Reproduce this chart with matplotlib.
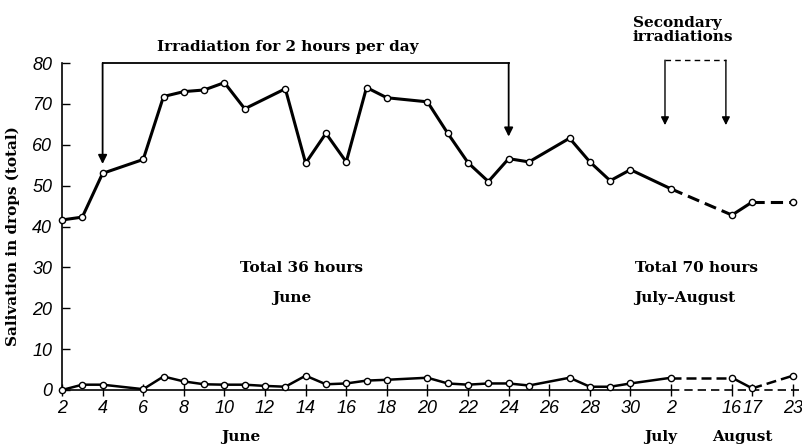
import matplotlib
matplotlib.use("Agg")
import matplotlib.pyplot as plt

# dates (month, day) and readings
upper_month = [6] * 25 + [7, 8, 8, 8]
upper_day = [2, 3, 4, 6, 7, 8, 9, 10, 11, 13, 14, 15, 16, 17, 18, 20, 21, 22, 23,
             24, 25, 27, 28, 29, 30, 2, 16, 17, 23]
upper_val = [41.6, 42.3, 53.0, 56.4, 71.8, 73.0, 73.4, 75.2, 68.8, 73.7, 55.5,
             62.8, 55.8, 74.0, 71.5, 70.5, 62.8, 55.6, 51.0, 56.6, 55.8, 61.6,
             55.8, 51.2, 53.9, 49.2, 42.8, 46.0, 46.0]

lower_month = [6] * 26 + [7, 8, 8, 8]
lower_day = [2, 3, 4, 6, 7, 8, 9, 10, 11, 12, 13, 14, 15, 16, 17, 18, 20, 21, 22,
             23, 24, 25, 27, 28, 29, 30, 2, 16, 17, 23]
lower_val = [0.0, 1.3, 1.3, 0.2, 3.3, 2.1, 1.4, 1.3, 1.3, 1.0, 0.8, 3.5, 1.4,
             1.6, 2.3, 2.5, 3.0, 1.6, 1.3, 1.6, 1.6, 1.1, 3.0, 0.8, 0.8, 1.6,
             3.0, 3.0, 0.4, 3.5]

tick_month = [6] * 15 + [7, 8, 8, 8]
tick_day = list(range(2, 31, 2)) + [2, 16, 17, 23]

# broken time axis: June/July continuous, August compressed
aug_slots = {16: 33, 17: 34, 23: 36}


def xpos(month, day):
    if month == 6:
        return day - 2
    if month == 7:
        return day + 28
    return aug_slots[day]


serif = dict(family="DejaVu Serif", fontweight="bold", fontsize=11)
tickfont = dict(family=["Liberation Sans", "DejaVu Sans"], style="italic", size=13)

fig = plt.figure(figsize=(8.03, 4.45), dpi=100)
ax = fig.add_axes([62 / 803, 55 / 445, 738 / 803, 327 / 445])
ax.set_xlim(0, 36.35)
ax.set_ylim(0, 80)

for sp in ["top", "right", "bottom"]:
    ax.spines[sp].set_visible(False)
ax.spines["left"].set_linewidth(1.2)


def draw_series(months, days, vals, lw):
    xs = [xpos(m, d) for m, d in zip(months, days)]
    i_jul = months.index(7)
    i_16 = days.index(16, i_jul)
    i_17 = i_16 + 1
    ax.plot(xs[:i_jul + 1], vals[:i_jul + 1], color="k", lw=lw, clip_on=False)
    ax.plot(xs[i_jul:i_16 + 1], vals[i_jul:i_16 + 1], color="k", lw=lw,
            dashes=(4, 2), clip_on=False)
    ax.plot(xs[i_16:i_17 + 1], vals[i_16:i_17 + 1], color="k", lw=lw, clip_on=False)
    ax.plot(xs[i_17:], vals[i_17:], color="k", lw=lw, dashes=(4, 2), clip_on=False)
    ax.plot(xs, vals, ls="none", marker="o", ms=4.5, mfc="white", mec="k",
            mew=1.0, clip_on=False, zorder=5)


draw_series(upper_month, upper_day, upper_val, 2.2)
draw_series(lower_month, lower_day, lower_val, 1.8)

# x axis line, dashed after the break
x_jul2 = xpos(7, 2)
ax.plot([0, x_jul2], [0, 0], color="k", lw=1.2, clip_on=False)
ax.plot([x_jul2, 36.3], [0, 0], color="k", lw=1.2, dashes=(5, 3), clip_on=False)

ax.set_xticks([xpos(m, d) for m, d in zip(tick_month, tick_day)])
ax.set_xticklabels([str(d) for d in tick_day], **tickfont)
ax.tick_params(axis="x", direction="inout", length=9, width=1, pad=3)
ax.set_yticks(range(0, 81, 10))
ax.set_yticklabels([str(v) for v in range(0, 81, 10)], **tickfont)
ax.tick_params(axis="y", direction="in", length=6, width=1, pad=7)

ax.set_ylabel("Salivation in drops (total)", **serif)
ax.yaxis.set_label_coords(-0.057, 0.47)

# primary irradiation bracket
xa, xb = xpos(6, 4), xpos(6, 24)
ax.plot([xa, xb], [80, 80], color="k", lw=1.3, clip_on=False)
arrow = dict(arrowstyle="-|>", color="k", lw=1.3, mutation_scale=13, shrinkA=0, shrinkB=0)
ax.annotate("", xy=(xa, 55.3), xytext=(xa, 80), arrowprops=arrow)
ax.annotate("", xy=(xb, 62.0), xytext=(xb, 80), arrowprops=arrow)
ax.text(11.1, 84, "Irradiation for 2 hours per day", ha="center", va="center", **serif)

# secondary irradiations bracket
xc, xd = xpos(7, 2) - 0.3, xpos(8, 16) - 0.3
ax.plot([xc, xd], [80.7, 80.7], color="k", lw=1.0, dashes=(4, 3), clip_on=False)
arrow2 = dict(arrowstyle="-|>", color="k", lw=1.0, mutation_scale=12, shrinkA=0, shrinkB=0)
ax.annotate("", xy=(xc, 64.8), xytext=(xc, 80.7), arrowprops=arrow2)
ax.annotate("", xy=(xd, 64.8), xytext=(xd, 80.7), arrowprops=arrow2)
ax.text(28.1, 88, "Secondary\nirradiations", ha="left", va="center",
        linespacing=1.0, **serif)

ax.text(11.8, 29.8, "Total 36 hours", ha="center", va="center", **serif)
ax.text(11.3, 22.5, "June", ha="center", va="center", **serif)
ax.text(28.2, 29.8, "Total 70 hours", ha="left", va="center", **serif)
ax.text(28.2, 22.5, "July\u2013August", ha="left", va="center", **serif)

ax.text(8.8, -11.5, "June", ha="center", va="center", clip_on=False, **serif)
ax.text(29.5, -11.5, "July", ha="center", va="center", clip_on=False, **serif)
ax.text(33.5, -11.5, "August", ha="center", va="center", clip_on=False, **serif)

fig.savefig("out.png", dpi=100)
